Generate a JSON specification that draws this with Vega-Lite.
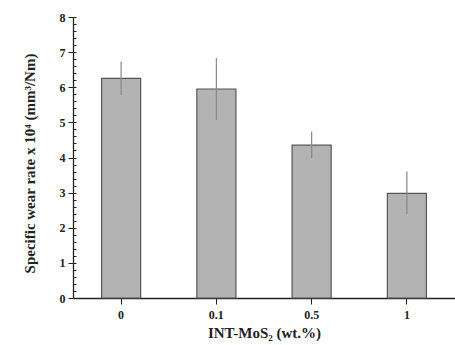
{
  "$schema": "https://vega.github.io/schema/vega-lite/v6.json",
  "width": 382,
  "height": 281,
  "autosize": "none",
  "padding": {"left": 73, "top": 17, "right": 0, "bottom": 47},
  "background": "white",
  "config": {
    "view": {"stroke": null},
    "font": "Liberation Serif",
    "axis": {"grid": false, "domainColor": "#222", "tickColor": "#222", "labelColor": "#222", "titleColor": "#222", "labelFontWeight": "bold", "titleFontWeight": "bold", "labelFont": "Liberation Serif", "titleFont": "Liberation Serif"}
  },
  "data": {
    "values": [
      {"c": "0", "v": 6.25, "lo": 5.78, "hi": 6.73},
      {"c": "0.1", "v": 5.95, "lo": 5.07, "hi": 6.83},
      {"c": "0.5", "v": 4.35, "lo": 3.98, "hi": 4.74},
      {"c": "1", "v": 2.98, "lo": 2.39, "hi": 3.6}
    ]
  },
  "layer": [
    {
      "mark": {"type": "bar", "fill": "#b3b3b3", "stroke": "#555", "strokeWidth": 1.2},
      "encoding": {
        "x": {
          "field": "c", "type": "ordinal", "sort": null,
          "scale": {"paddingInner": 0.59, "paddingOuter": 0.3},
          "axis": {"title": "INT-MoS₂ (wt.%)", "labelAngle": 0, "labelFontSize": 12, "titleFontSize": 15, "tickSize": 6, "labelPadding": 5, "titlePadding": 5, "domainWidth": 1.3}
        },
        "y": {
          "field": "v", "type": "quantitative",
          "scale": {"domain": [0, 8], "nice": false},
          "axis": {"title": "Specific wear rate x 10⁴ (mm³/Nm)", "values": [0,1,2,3,4,5,6,7,8], "labelFontSize": 12, "titleFontSize": 15, "tickSize": 5, "labelPadding": 3, "titlePadding": 22, "titleY": 146, "domainWidth": 1.3}
        }
      }
    },
    {
      "mark": {"type": "rule", "color": "#888", "strokeWidth": 1.2},
      "encoding": {
        "x": {"field": "c", "type": "ordinal", "sort": null},
        "y": {"field": "lo", "type": "quantitative", "axis": {"orient": "left", "title": null, "labels": false, "domain": false, "values": [0,0.2,0.4,0.6,0.8,1,1.2,1.4,1.6,1.8,2,2.2,2.4,2.6,2.8,3,3.2,3.4,3.6,3.8,4,4.2,4.4,4.6,4.8,5,5.2,5.4,5.6,5.8,6,6.2,6.4,6.6,6.8,7,7.2,7.4,7.6,7.8,8], "tickSize": -3, "offset": 0}},
        "y2": {"field": "hi"}
      }
    }
  ],
  "resolve": {"axis": {"y": "independent"}}
}
